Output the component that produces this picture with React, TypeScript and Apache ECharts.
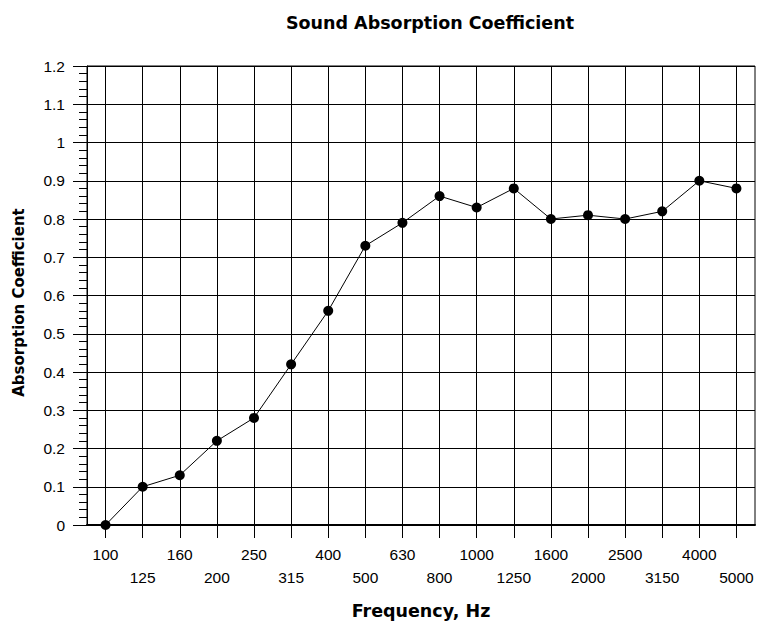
import React, { useEffect, useRef } from "react";
import * as echarts from "echarts";

const frequencies = ["100", "125", "160", "200", "250", "315", "400", "500", "630", "800", "1000", "1250", "1600", "2000", "2500", "3150", "4000", "5000"];
const absorption = [0, 0.1, 0.13, 0.22, 0.28, 0.42, 0.56, 0.73, 0.79, 0.86, 0.83, 0.88, 0.8, 0.81, 0.8, 0.82, 0.9, 0.88];

const titleText = "Sound Absorption Coefficient";
const xName = "Frequency, Hz";
const yName = "Absorption Coefficient";

export default function App() {
  const ref = useRef<HTMLDivElement>(null);
  useEffect(() => {
    if (!ref.current) return;
    const chart = echarts.init(ref.current, null, { renderer: "svg" });
    const boldFont = "DejaVu Sans";
    const tickFont = "Liberation Sans";
    chart.setOption({
      animation: false,
      backgroundColor: "#ffffff",
      title: {
        text: titleText,
        left: 425,
        top: 9,
        textAlign: "center",
        textStyle: { fontFamily: boldFont, fontWeight: "bold", fontSize: 17.5, color: "#000" },
      },
      grid: {
        left: 87,
        right: 4,
        top: 66,
        bottom: 99,
        containLabel: false,
        outerBoundsMode: "none",
        show: true,
        borderColor: "#000",
        borderWidth: 1,
        backgroundColor: "transparent",
      },
      xAxis: {
        type: "category",
        data: frequencies,
        boundaryGap: true,
        name: xName,
        nameLocation: "middle",
        nameGap: 77,
        nameMoveOverlap: false,
        nameTextStyle: { fontFamily: boldFont, fontWeight: "bold", fontSize: 17.5, color: "#000" },
        axisLine: { show: true, lineStyle: { color: "#000", width: 2 } },
        axisTick: { show: true, alignWithLabel: true, length: 13, lineStyle: { color: "#000", width: 1 } },
        splitLine: { show: true, alignWithLabel: true, lineStyle: { color: "#000", width: 1 } },
        axisLabel: {
          interval: 0,
          margin: 18,
          fontFamily: tickFont,
          fontSize: 15.5,
          color: "#000",
          lineHeight: 23,
          formatter: (v: string, i: number) => (i % 2 === 1 ? "\n" + v : v),
        },
      },
      yAxis: {
        type: "value",
        min: 0,
        max: 1.2,
        interval: 0.1,
        name: yName,
        nameLocation: "middle",
        nameGap: 61,
        nameMoveOverlap: false,
        nameTextStyle: { fontFamily: boldFont, fontWeight: "bold", fontSize: 15, color: "#000", padding: [0, 14, 0, 0] },
        axisLine: { show: true, lineStyle: { color: "#000", width: 1 } },
        axisTick: { show: true, length: 14, lineStyle: { color: "#000", width: 1 } },
        minorTick: { show: true, splitNumber: 5, length: 8, lineStyle: { color: "#000", width: 1 } },
        splitLine: { show: true, lineStyle: { color: "#000", width: 1 } },
        axisLabel: {
          margin: 22,
          fontFamily: tickFont,
          fontSize: 15.5,
          color: "#000",
          formatter: (v: number) => String(Math.round(v * 10) / 10),
        },
      },
      series: [
        {
          type: "line",
          data: absorption,
          symbol: "circle",
          symbolSize: 10,
          itemStyle: { color: "#000" },
          lineStyle: { color: "#000", width: 1 },
        },
      ],
    });
    return () => chart.dispose();
  }, []);
  return <div ref={ref} style={{ position: "absolute", left: 0, top: 0, width: 759, height: 624 }} />;
}
